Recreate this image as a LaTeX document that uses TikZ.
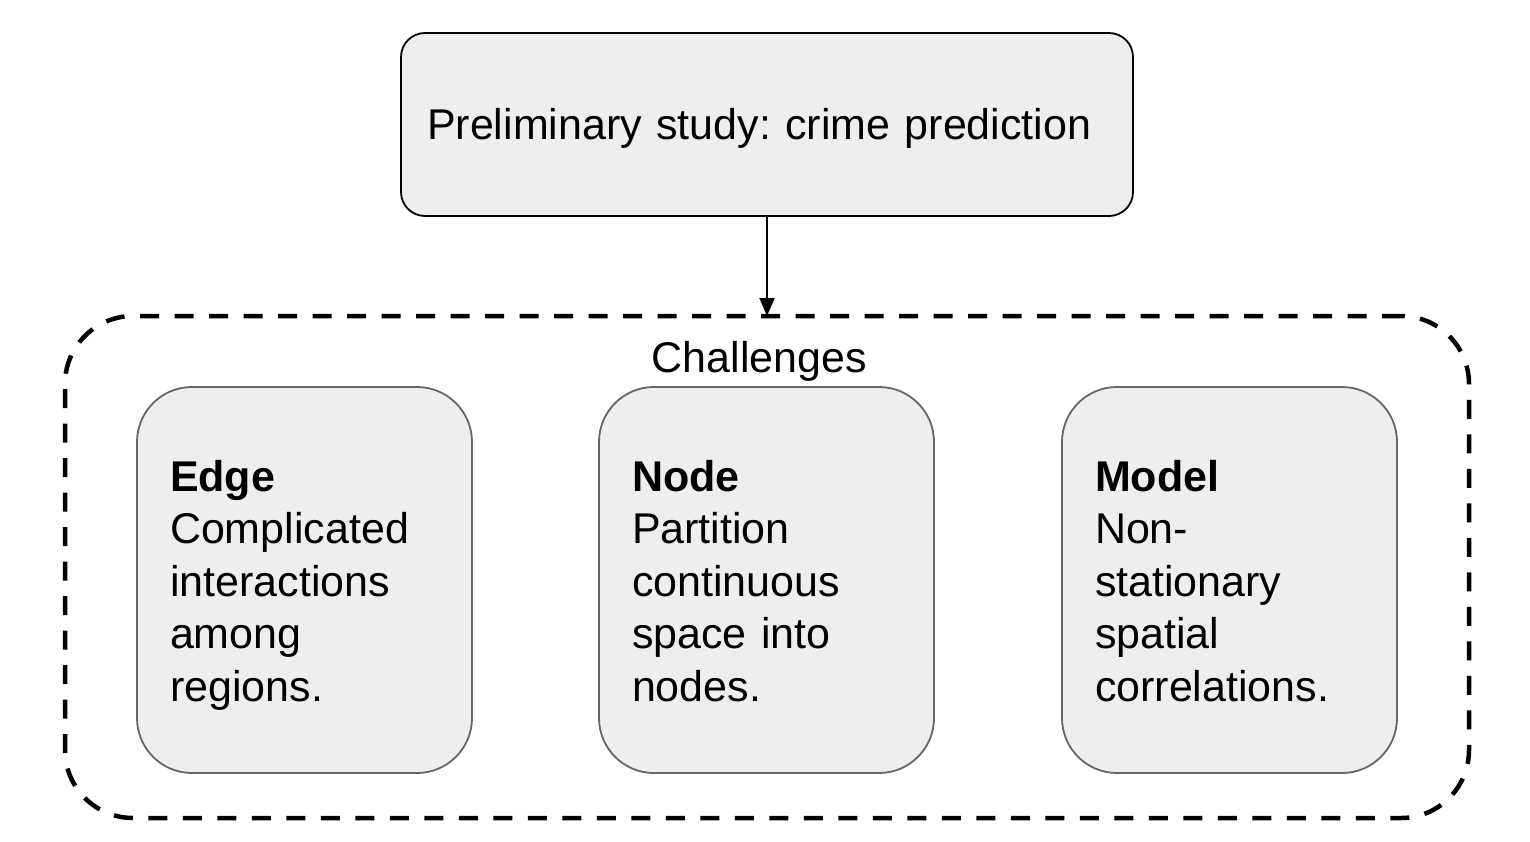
\documentclass[tikz,border=0pt]{standalone}
\usepackage{fontspec}
\setmainfont{Liberation Sans}
\usetikzlibrary{arrows.meta}
\setlength{\parindent}{0pt}
\frenchspacing
\definecolor{boxfill}{HTML}{EEEEEE}
\definecolor{boxline}{HTML}{666666}
\begin{document}
\begin{tikzpicture}[x=1pt,y=-1pt,
  topbox/.style={draw=black, line width=1.8pt, fill=boxfill, rounded corners=24pt,
    minimum width=732pt, minimum height=183pt, text width=680pt, align=left,
    inner xsep=26pt, inner ysep=0pt, text height=31pt, text depth=0pt,
    font=\fontsize{43}{52.5}\selectfont},
  chalbox/.style={draw=boxline, line width=1.8pt, fill=boxfill, rounded corners=55pt,
    minimum width=335pt, minimum height=386pt, text width=269pt, align=left,
    inner xsep=33pt, inner ysep=0pt, font=\fontsize{43}{52.5}\selectfont},
  dashbox/.style={draw=black, line width=4.5pt, dash pattern=on 19pt off 15.5pt,
    rounded corners=68pt, minimum width=1404pt, minimum height=502pt, outer sep=0pt, inner sep=0pt},
  label text/.style={font=\fontsize{43}{52.5}\selectfont, inner sep=0pt, anchor=base},
  arrowline/.style={draw=black, line width=2pt, -{Triangle[length=18pt,width=15pt]}}
]
\useasboundingbox (0,0) rectangle (1530,842);
\fill[white] (0,0) rectangle (1530,842);

\node[dashbox] (chal) at (767,567) {};
\node[topbox] (top) at (767,124.5) {Preliminary study: crime prediction};
\node[label text] (challab) at (759.5,372.5) {Challenges};

\node[chalbox] (edge) at (304.5,580) {\rule{0pt}{41pt}\textbf{Edge}\\Complicated\\interactions\\among\\regions.\rule[-9pt]{0pt}{9pt}};
\node[chalbox] (node) at (766.5,580) {\rule{0pt}{41pt}\textbf{Node}\\Partition\\continuous\\space into\\nodes.\rule[-9pt]{0pt}{9pt}};
\node[chalbox] (model) at (1229.5,580) {\rule{0pt}{41pt}\textbf{Model}\\Non-\\stationary\\spatial\\correlations.\rule[-9pt]{0pt}{9pt}};

\draw[arrowline] (top.south) -- (chal.north);
\end{tikzpicture}
\end{document}
